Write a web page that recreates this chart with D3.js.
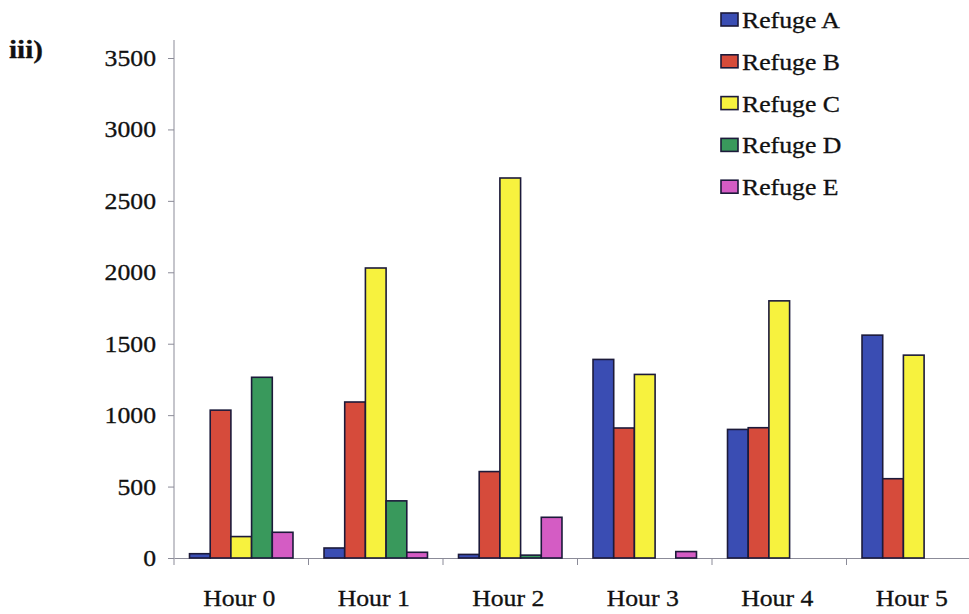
<!DOCTYPE html>
<html>
<head>
<meta charset="utf-8">
<script src="https://cdn.jsdelivr.net/npm/d3@7"></script>
<style>
  html, body { margin: 0; padding: 0; background: #fff; }
  svg { display: block; }
  text { font-family: "Liberation Serif", "Times New Roman", serif; fill: #111; stroke: #111; stroke-width: 0.3px; }
</style>
</head>
<body>
<svg id="chart" width="969" height="614"></svg>
<script>
// Hourly counts per refuge
const hours = ["Hour 0", "Hour 1", "Hour 2", "Hour 3", "Hour 4", "Hour 5"];
const refuges = ["Refuge A", "Refuge B", "Refuge C", "Refuge D", "Refuge E"];
const refugeA = [30, 70, 25, 1390, 900, 1560];
const refugeB = [1035, 1092, 605, 910, 912, 555];
const refugeC = [150, 2030, 2660, 1285, 1800, 1420];
const refugeD = [1265, 400, 20, 0, 0, 0];
const refugeE = [180, 40, 285, 45, 0, 0];
const yTicks = [0, 500, 1000, 1500, 2000, 2500, 3000, 3500];
const colors = ["#3a4db3", "#d64b3b", "#f7f23e", "#39995c", "#d45cc4"];

const series = [refugeA, refugeB, refugeC, refugeD, refugeE];

const svg = d3.select("#chart");
const stretch = 1.12; // wide serif lettering
const fs = 23;

const x = d3.scaleBand().domain(hours).range([174, 981]).paddingInner(0).paddingOuter(0);
const y = d3.scaleLinear().domain([0, 3500]).range([558, 58]);

// group layout: 5 bars plus a 150% gap
const barW = x.bandwidth() / 6.5;
const xs = d3.scaleBand().domain(refuges)
  .range([0.75 * barW, 0.75 * barW + 5 * barW]).padding(0);

// axes
const axisColor = "#8b8b98";
const yAxis = svg.append("g").attr("transform", "translate(174,0)")
  .call(d3.axisLeft(y).tickValues(yTicks).tickSize(6).tickFormat(() => ""));
yAxis.select(".domain").attr("stroke", axisColor).attr("d", "M0,40V558");
yAxis.selectAll(".tick line").attr("stroke", axisColor);

yTicks.forEach(v => {
  svg.append("text")
    .attr("transform", `translate(156,${y(v) + 8}) scale(${stretch},1)`)
    .attr("text-anchor", "end")
    .attr("font-size", fs)
    .text(v);
});

const xAxis = svg.append("g").attr("transform", "translate(0,558)")
  .call(d3.axisBottom(x).tickSize(0).tickFormat(() => ""));
xAxis.select(".domain").attr("stroke", axisColor);
const bounds = hours.map(h => x(h)).concat([x(hours[hours.length - 1]) + x.bandwidth()]);
svg.append("g").selectAll("line").data(bounds).join("line")
  .attr("x1", d => d).attr("x2", d => d)
  .attr("y1", 558).attr("y2", 565)
  .attr("stroke", axisColor);

hours.forEach(h => {
  svg.append("text")
    .attr("transform", `translate(${x(h) + x.bandwidth() / 2 - 2},606) scale(${stretch},1)`)
    .attr("text-anchor", "middle")
    .attr("font-size", fs)
    .text(h);
});

// bars
const rows = [];
hours.forEach((h, i) => {
  refuges.forEach((r, j) => {
    if (series[j][i] > 0) rows.push({ h, r, v: series[j][i], c: colors[j] });
  });
});
svg.append("g").selectAll("rect").data(rows).join("rect")
  .attr("x", d => x(d.h) + xs(d.r))
  .attr("y", d => y(d.v))
  .attr("width", xs.bandwidth())
  .attr("height", d => y(0) - y(d.v))
  .attr("fill", d => d.c)
  .attr("stroke", "#1c1a3a")
  .attr("stroke-width", 1.6);

// legend
const legend = svg.append("g");
refuges.forEach((r, j) => {
  const cy = 20 + j * 41.8;
  legend.append("rect")
    .attr("x", 721).attr("y", cy - 7)
    .attr("width", 17).attr("height", 13)
    .attr("fill", colors[j])
    .attr("stroke", "#1c1a3a").attr("stroke-width", 1.6);
  legend.append("text")
    .attr("transform", `translate(742,${cy + 8}) scale(${stretch},1)`)
    .attr("font-size", fs)
    .text(r);
});

// panel label
svg.append("text")
  .attr("transform", `translate(9,58) scale(${stretch},1)`)
  .attr("font-size", 26)
  .attr("font-weight", "bold")
  .text("iii)");
</script>
</body>
</html>
